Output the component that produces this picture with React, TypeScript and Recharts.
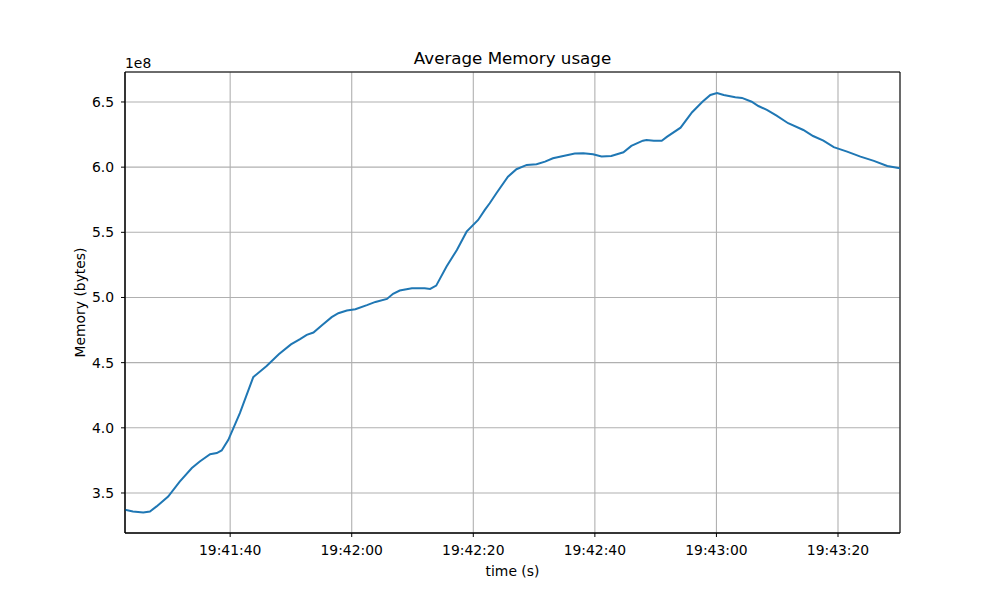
import { CartesianGrid, Label, Line, LineChart, ReferenceArea, XAxis, YAxis } from "recharts";

// seconds after 19:41:00
const times = [
  22.7, 24.0, 25.7, 26.8, 27.9, 29.8, 31.7, 33.7, 35.0, 36.7, 37.8, 38.6, 39.7, 41.6, 43.8, 46.0,
  48.0, 50.0, 51.5, 52.6, 53.7, 55.2, 56.7, 57.8, 59.2, 60.6, 62.5, 63.9, 65.8, 66.8, 67.9, 69.9,
  72.0, 72.9, 73.9, 75.6, 77.3, 78.9, 80.8, 81.9, 82.7, 83.8, 85.7, 87.1, 88.8, 90.4, 91.8, 93.1,
  94.8, 96.7, 98.1, 99.7, 101.1, 102.7, 104.7, 106.0, 107.9, 108.5, 109.7, 111.0, 111.9, 114.1,
  116.0, 117.7, 119.0, 120.1, 121.2, 123.1, 124.2, 125.8, 126.9, 128.3, 129.9, 131.8, 134.3,
  135.9, 137.6, 139.3, 141.5, 143.7, 145.9, 148.1, 150.2
];

// average memory, units of 1e8 bytes
const memory = [
  3.371, 3.358, 3.35, 3.358, 3.397, 3.473, 3.588, 3.691, 3.742, 3.798, 3.806, 3.826, 3.908, 4.113,
  4.389, 4.475, 4.565, 4.64, 4.68, 4.713, 4.731, 4.79, 4.849, 4.879, 4.9, 4.91, 4.941, 4.966, 4.989,
  5.028, 5.053, 5.071, 5.071, 5.066, 5.091, 5.237, 5.365, 5.505, 5.595, 5.672, 5.723, 5.8, 5.927,
  5.984, 6.017, 6.022, 6.042, 6.068, 6.086, 6.104, 6.107, 6.099, 6.081, 6.086, 6.114, 6.163, 6.203,
  6.209, 6.203, 6.203, 6.234, 6.303, 6.421, 6.502, 6.554, 6.569, 6.554, 6.536, 6.531, 6.502, 6.469,
  6.439, 6.395, 6.337, 6.285, 6.239, 6.203, 6.153, 6.119, 6.081, 6.048, 6.009, 5.991
];

const xTicks = [40, 60, 80, 100, 120, 140];
const yTicks = [3.5e8, 4.0e8, 4.5e8, 5.0e8, 5.5e8, 6.0e8, 6.5e8];
const xDomain: [number, number] = [22.7, 150.2];
const yDomain: [number, number] = [3.193e8, 6.73e8];

const data = times.map((t, i) => ({ t, bytes: memory[i] * 1e8 }));

const font = "DejaVu Sans, sans-serif";
const textStyle = { fontSize: 13.9, fill: "#000", fontFamily: font };

function formatClock(sec: number) {
  const total = 19 * 3600 + 41 * 60 + sec;
  const h = Math.floor(total / 3600);
  const m = Math.floor((total % 3600) / 60);
  const s = Math.round(total % 60);
  const pad = (n: number) => String(n).padStart(2, "0");
  return `${h}:${pad(m)}:${pad(s)}`;
}

export default function App() {
  return (
    <div style={{ position: "absolute", left: 0, top: 0, width: 1000, height: 600, background: "#fff" }}>
      <LineChart width={1000} height={600} data={data} margin={{ top: 72, right: 100, bottom: 37, left: 0 }}>
        <CartesianGrid stroke="#b0b0b0" strokeWidth={1.1} />
        <XAxis
          dataKey="t"
          type="number"
          domain={xDomain}
          ticks={xTicks}
          allowDataOverflow
          tickFormatter={formatClock}
          height={30}
          tickSize={4}
          tickMargin={8}
          tick={textStyle}
          stroke="#000"
          tickLine={{ stroke: "#000" }}
        >
          <Label value="time (s)" position="insideBottom" offset={-13} style={textStyle} />
        </XAxis>
        <YAxis
          type="number"
          domain={yDomain}
          ticks={yTicks}
          allowDataOverflow
          tickFormatter={(v: number) => (v / 1e8).toFixed(1)}
          width={125}
          tickSize={4}
          tickMargin={7}
          tick={textStyle}
          stroke="#000"
          tickLine={{ stroke: "#000" }}
        >
          <Label
            value="Memory (bytes)"
            angle={-90}
            position="insideLeft"
            offset={80}
            style={{ ...textStyle, textAnchor: "middle" }}
          />
        </YAxis>
        <ReferenceArea
          x1={xDomain[0]}
          x2={xDomain[1]}
          y1={yDomain[0]}
          y2={yDomain[1]}
          fill="none"
          stroke="#000"
          strokeWidth={1}
          ifOverflow="visible"
        />
        <Line
          dataKey="bytes"
          type="linear"
          stroke="#1f77b4"
          strokeWidth={2}
          dot={false}
          isAnimationActive={false}
        />
        <text x={512.5} y={64} textAnchor="middle" style={{ fontSize: 16.7, fill: "#000", fontFamily: font }}>
          Average Memory usage
        </text>
        <text x={125} y={68} textAnchor="start" style={textStyle}>
          1e8
        </text>
      </LineChart>
    </div>
  );
}
